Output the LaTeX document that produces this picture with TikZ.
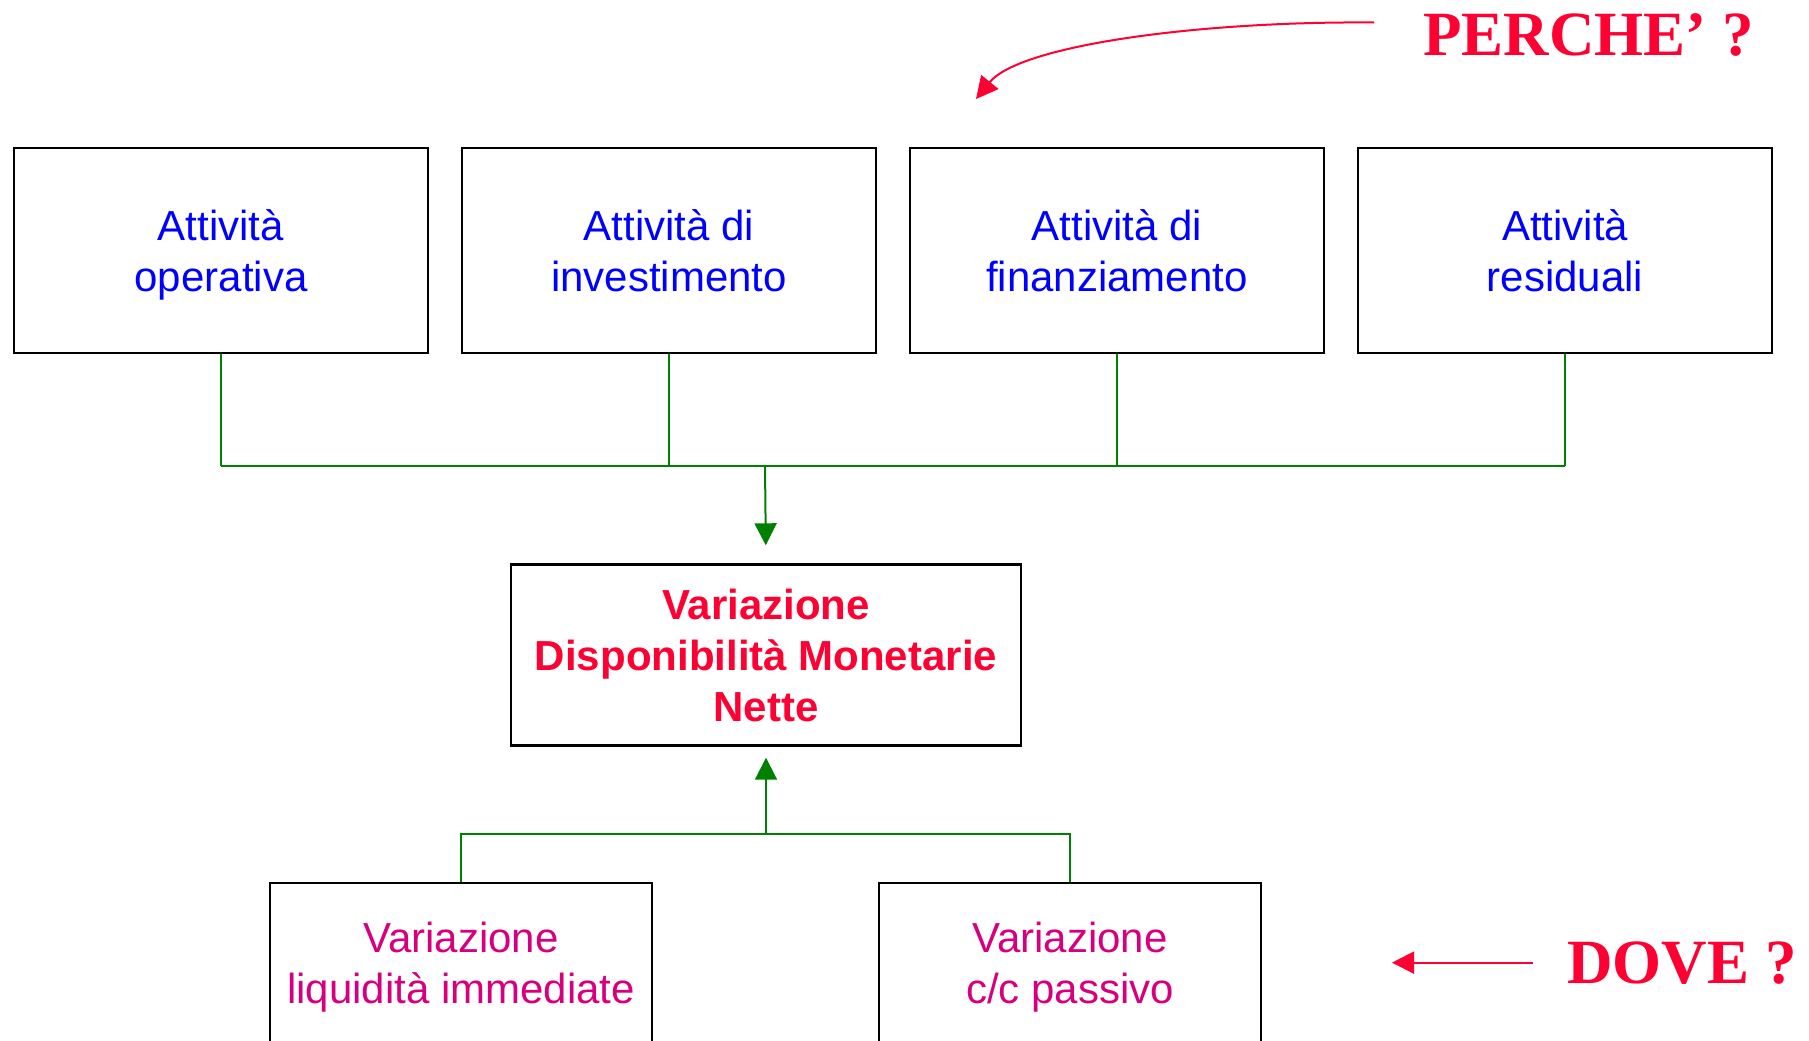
\documentclass[tikz,border=0pt]{standalone}
\usepackage{fontspec}
\setmainfont{Liberation Serif}
\setsansfont{Liberation Sans}
\usetikzlibrary{arrows.meta}
\definecolor{attblue}{RGB}{0,0,255}
\definecolor{dmnred}{RGB}{255,0,51}
\definecolor{varmag}{RGB}{214,0,127}
\definecolor{linkgreen}{RGB}{0,128,0}

\begin{document}
\begin{tikzpicture}[x=0.5pt,y=-0.5pt,
  box/.style={draw, line width=1.2pt, align=center, inner sep=0pt, text depth=0pt,
    font=\sffamily\fontsize{21pt}{25.5pt}\selectfont},
  attbox/.style={box, text=attblue, minimum width=207pt, minimum height=102.5pt},
  varbox/.style={box, text=varmag, minimum width=191pt, minimum height=80pt},
  link/.style={linkgreen, line width=1pt},
  tip/.style={-{Triangle[length=11pt,width=11pt]}},
  ask/.style={text=dmnred, font=\bfseries\fontsize{31.5pt}{36pt}\selectfont, inner ysep=0pt}]

\clip (0,0) rectangle (1809,1040);

% attivita'
\node[attbox] (opera) at (221,250.5) {Attività\\operativa};
\node[attbox] (invest) at (669,250.5) {Attività di\\investimento};
\node[attbox] (finanz) at (1117,250.5) {Attività di\\finanziamento};
\node[attbox] (resid) at (1565,250.5) {Attività\\residuali};

% variazione DMN
\node[box, text=dmnred, font=\sffamily\bfseries\fontsize{21pt}{25.5pt}\selectfont,
  minimum width=255pt, minimum height=90.5pt] (dmn) at (766,655)
  {Variazione\\Disponibilità Monetarie\\Nette};

\node[varbox] (liquid) at (461,963) {Variazione\\liquidità immediate};
\node[varbox] (ccpass) at (1070,963) {Variazione\\c/c passivo};

% domande
\node[ask, anchor=base west, inner xsep=24.5pt] (perche) at (1374,55) {PERCHE’ ?};
\node[ask, anchor=base west, inner xsep=17pt] (dove) at (1533,983) {DOVE ?};

\coordinate (bus) at (765,466);
\coordinate (bus2) at (766,834);
\coordinate (perchetip) at (976,99);
\coordinate (dovetip) at (1392,963);

\foreach \n in {opera,invest,finanz,resid}
  \draw[link] (\n.south) -- (\n.south |- bus);
\draw[link] (opera.south |- bus) -- (resid.south |- bus);
\draw[link, tip, shorten >=9pt] (bus) -- (dmn.north);

\draw[link] (liquid.north) -- (liquid.north |- bus2) -- (ccpass.north |- bus2) -- (ccpass.north);
\draw[link, tip, shorten >=5.5pt] (bus2) -- (dmn.south);

\draw[dmnred, line width=1pt, tip] ([yshift=6pt]perche.west)
  .. controls (1200,21) and (1020,45) .. (perchetip);
\draw[dmnred, line width=1pt, tip] (dove.west) -- (dove.west -| dovetip);

\end{tikzpicture}
\end{document}
